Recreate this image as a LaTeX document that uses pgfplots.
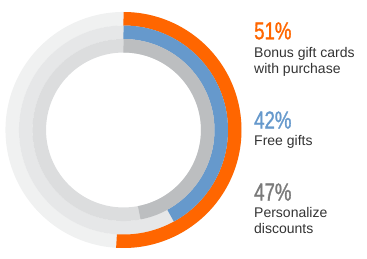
\documentclass[border=0pt]{standalone}
\usepackage{pgfplots}
\pgfplotsset{compat=1.18}
\usepackage{pgfplotstable}
\usepackage{fontspec}
\setmainfont{Liberation Sans}
\newfontfamily\numfont[FakeStretch=0.76,FakeBold=1.2]{Liberation Sans}
\definecolor{cOrange}{HTML}{FF6600}
\definecolor{cBlue}{HTML}{6699CC}
\definecolor{cGray}{HTML}{BCBEC0}
\definecolor{bgA}{HTML}{F0F1F1}
\definecolor{bgB}{HTML}{E6E7E8}
\definecolor{bgC}{HTML}{DCDDDE}
\definecolor{txt}{HTML}{333333}
\definecolor{numGray}{HTML}{7A7A7A}
\pgfplotstableread{
label value radius
bonus 51 111.25
free 42 97.75
personal 47 84.25
}\datatable
\pgfplotstablegetelem{0}{value}\of\datatable \let\vA\pgfplotsretval
\pgfplotstablegetelem{1}{value}\of\datatable \let\vB\pgfplotsretval
\pgfplotstablegetelem{2}{value}\of\datatable \let\vC\pgfplotsretval
\pgfplotstablegetelem{0}{radius}\of\datatable \let\rA\pgfplotsretval
\pgfplotstablegetelem{1}{radius}\of\datatable \let\rB\pgfplotsretval
\pgfplotstablegetelem{2}{radius}\of\datatable \let\rC\pgfplotsretval
\def\cx{123.5}
\def\cy{128}
\begin{document}
\begin{tikzpicture}
\begin{axis}[
  x=1pt, y=1pt, xmin=0, xmax=367, ymin=0, ymax=258,
  hide axis, clip=false, scale only axis,
  samples=240, line join=round,
]
\addplot[draw=none] coordinates {(0,0) (367,258)};
% background rings
\addplot[bgA, line width=13.6pt, domain=0:100] ({\cx+\rA*sin(3.6*x)},{\cy+\rA*cos(3.6*x)});
\addplot[bgB, line width=13.6pt, domain=0:100] ({\cx+\rB*sin(3.6*x)},{\cy+\rB*cos(3.6*x)});
\addplot[bgC, line width=13.6pt, domain=0:100] ({\cx+\rC*sin(3.6*x)},{\cy+\rC*cos(3.6*x)});
% value arcs
\addplot[cOrange, line width=13.5pt, domain=0:\vA] ({\cx+\rA*sin(3.6*x)},{\cy+\rA*cos(3.6*x)});
\addplot[cBlue, line width=13.5pt, domain=0:\vB] ({\cx+\rB*sin(3.6*x)},{\cy+\rB*cos(3.6*x)});
\addplot[cGray, line width=13.5pt, domain=0:\vC] ({\cx+\rC*sin(3.6*x)},{\cy+\rC*cos(3.6*x)});
% labels
\node[anchor=base west, inner sep=0, text=cOrange, font=\numfont\fontsize{24.5}{24.5}\selectfont] at (axis cs:254,{258-39.3}) {51\%};
\node[anchor=base west, inner sep=0, text=txt, font=\fontsize{14}{16}\selectfont] at (axis cs:254,{258-57}) {Bonus gift cards};
\node[anchor=base west, inner sep=0, text=txt, font=\fontsize{14}{16}\selectfont] at (axis cs:254,{258-73}) {with purchase};
\node[anchor=base west, inner sep=0, text=cBlue, font=\numfont\fontsize{24.5}{24.5}\selectfont] at (axis cs:254,{258-128.5}) {42\%};
\node[anchor=base west, inner sep=0, text=txt, font=\fontsize{14}{16}\selectfont] at (axis cs:254,{258-145.5}) {Free gifts};
\node[anchor=base west, inner sep=0, text=numGray, font=\numfont\fontsize{24.5}{24.5}\selectfont] at (axis cs:254,{258-200.5}) {47\%};
\node[anchor=base west, inner sep=0, text=txt, font=\fontsize{14}{16}\selectfont] at (axis cs:254,{258-217}) {Personalize};
\node[anchor=base west, inner sep=0, text=txt, font=\fontsize{14}{16}\selectfont] at (axis cs:254,{258-233}) {discounts};
\end{axis}
\end{tikzpicture}
\end{document}
